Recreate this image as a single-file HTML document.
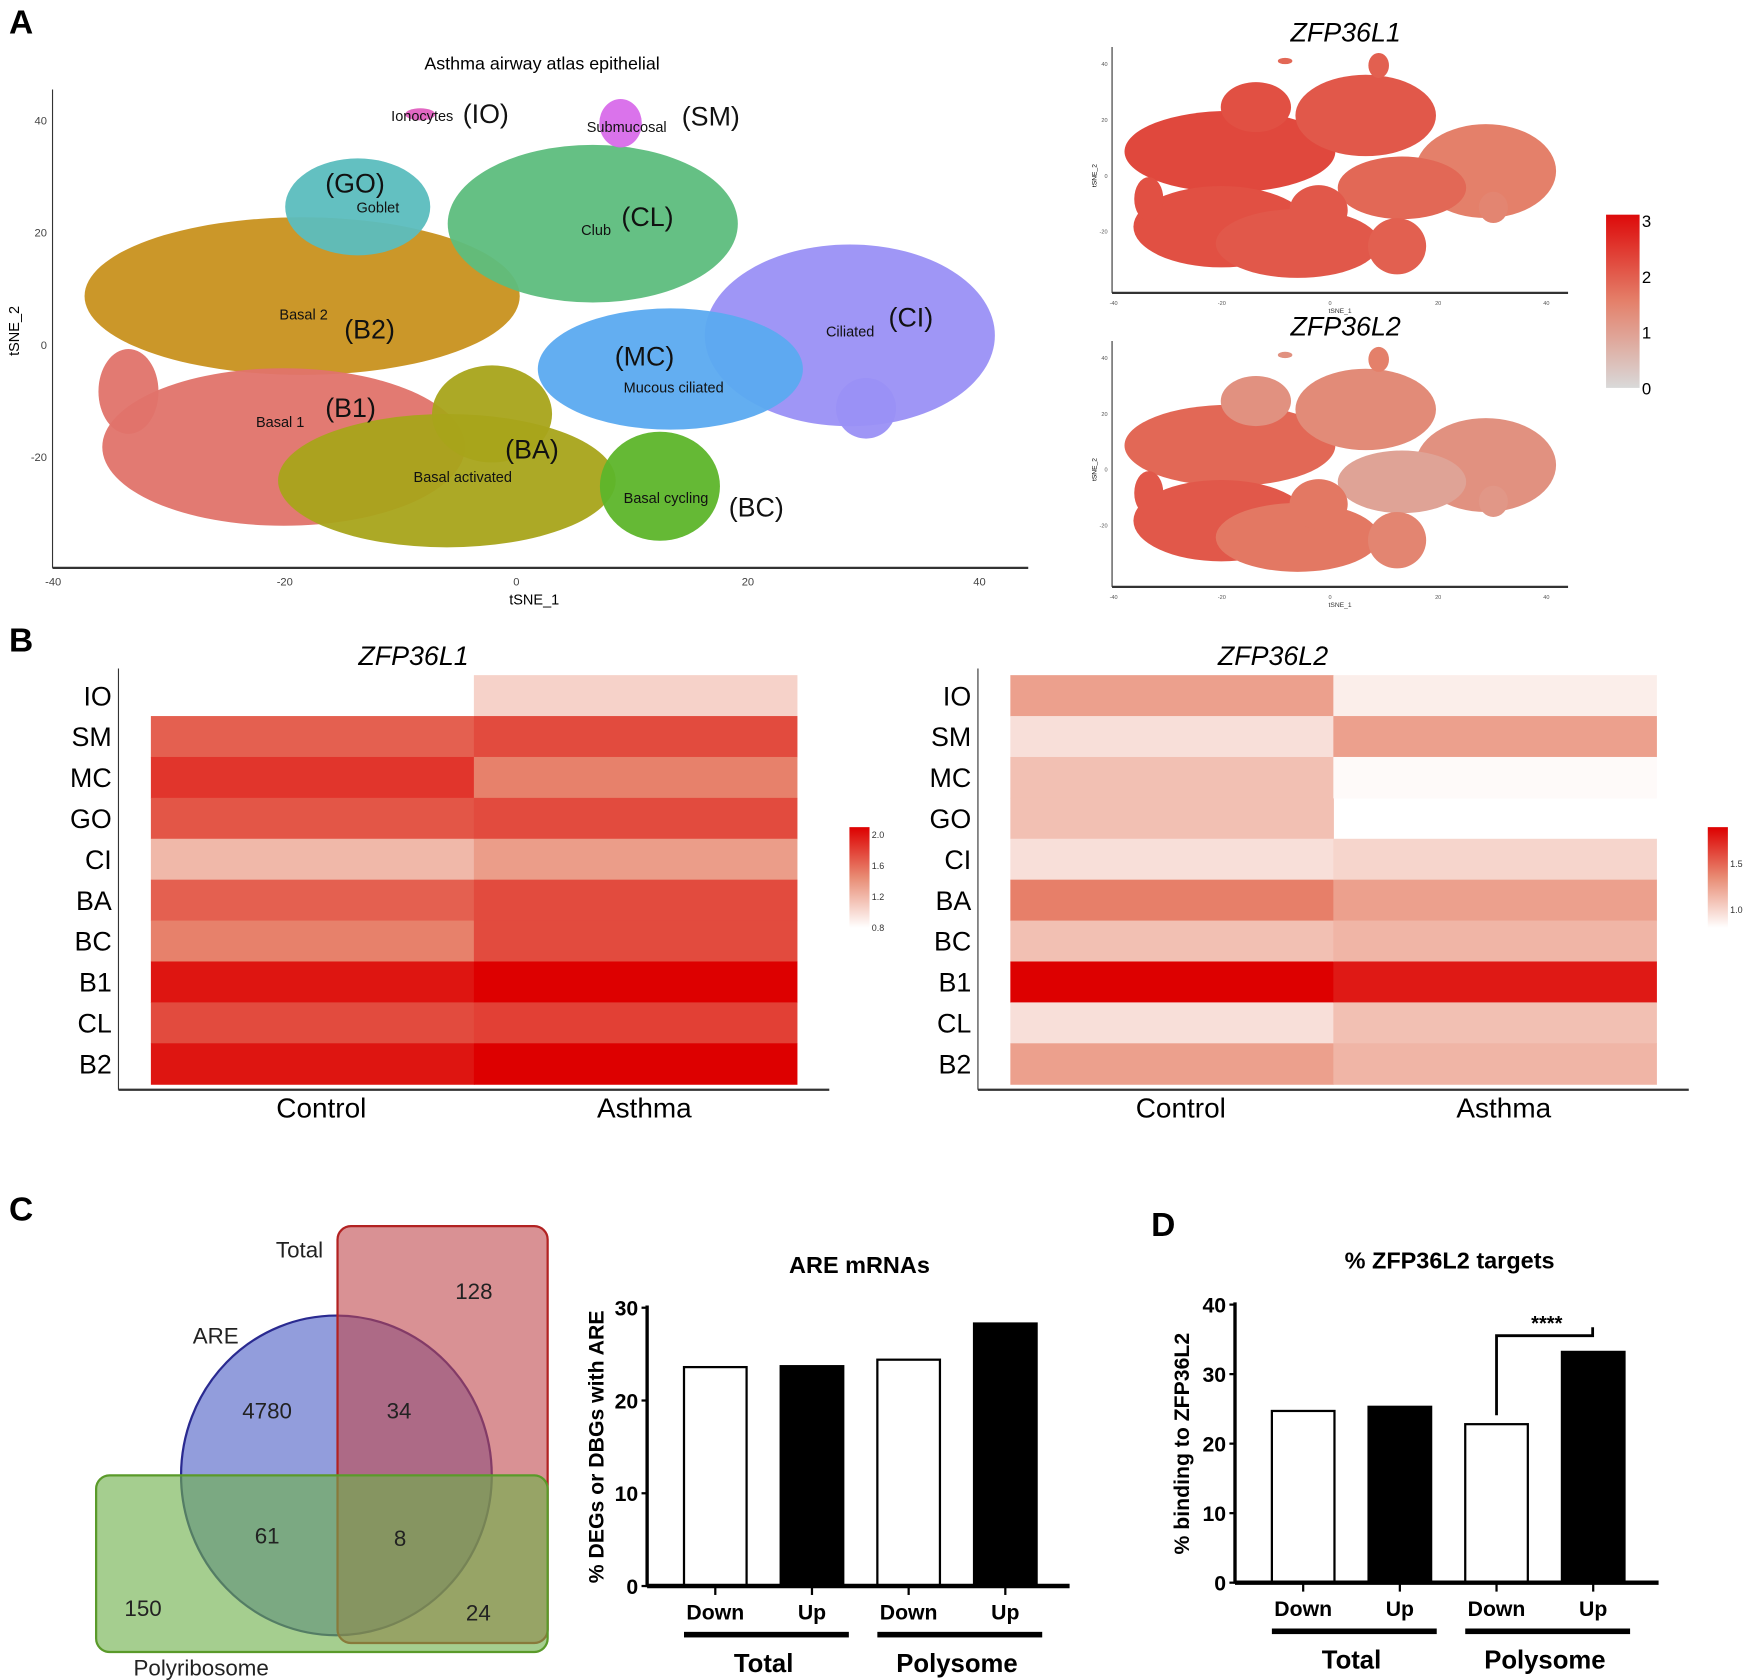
<!DOCTYPE html>
<html><head><meta charset="utf-8"><style>
html,body{margin:0;padding:0;background:#fff;}
svg{display:block;font-family:"Liberation Sans",sans-serif;}
</style></head><body>
<svg id="fig" width="1748" height="1680" viewBox="0 0 1564 1503" xmlns="http://www.w3.org/2000/svg">
<defs>
<linearGradient id="gA" x1="0" y1="1" x2="0" y2="0"><stop offset="0" stop-color="#d9d9d9"/><stop offset="0.5" stop-color="#e4806a"/><stop offset="1" stop-color="#dd0a0a"/></linearGradient>
<linearGradient id="gB" x1="0" y1="1" x2="0" y2="0"><stop offset="0" stop-color="#ffffff"/><stop offset="0.5" stop-color="#e88c74"/><stop offset="1" stop-color="#dd0000"/></linearGradient>
</defs>
<g font-weight="bold" font-size="30">
<text x="8" y="30">A</text>
<text x="8" y="583">B</text>
<text x="8" y="1092">C</text>
<text x="1030" y="1106">D</text>
</g>
<g id="tsneMain"></g>
<g id="tsneL1"></g>
<g id="tsneL2"></g>
<g id="heatL1"></g>
<g id="heatL2"></g>
<g id="venn">
<ellipse cx="301" cy="1320" rx="139" ry="143" fill="#4a5cc4" fill-opacity="0.6" stroke="#2a2a90" stroke-width="2"/>
<rect x="302" y="1097" width="188" height="373" rx="12" fill="#c0484c" fill-opacity="0.6" stroke="#b22222" stroke-width="2"/>
<rect x="86" y="1320" width="404" height="158" rx="12" fill="#6db04b" fill-opacity="0.62" stroke="#5a9a2a" stroke-width="2"/>
<g font-size="20" text-anchor="middle" fill="#222">
<text x="424" y="1162">128</text>
<text x="239" y="1269">4780</text>
<text x="357" y="1269">34</text>
<text x="239" y="1381">61</text>
<text x="358" y="1383">8</text>
<text x="128" y="1446">150</text>
<text x="428" y="1450">24</text>
<text x="268" y="1125">Total</text>
<text x="193" y="1202">ARE</text>
<text x="180" y="1499">Polyribosome</text>
</g>
</g>
<g id="barC"></g>
<g id="barD"></g>
</svg>
<script>
const NS='http://www.w3.org/2000/svg';
function mk(tag,attrs,parent,txt){const e=document.createElementNS(NS,tag);for(const k in attrs)e.setAttribute(k,attrs[k]);if(txt!==undefined)e.textContent=txt;parent.appendChild(e);return e;}

// ===== Panel A data =====
const clusterNames=['Basal 2','Goblet','Club','Ciliated','Ciliated tail','Mucous ciliated','Basal 1','Basal 1 tail','Basal activated','Basal activated top','Basal cycling','Submucosal','Ionocytes'];
const clusterCx=[-18.5,-13.7,6.6,28.8,30.2,13.3,-20.1,-33.5,-6,-2.1,12.4,9.0,-8.3];
const clusterCy=[8.6,24.5,21.5,1.6,-11.4,-4.4,-18.3,-8.4,-24.3,-12.4,-25.3,39.4,41];
const clusterRx=[17.4,5.8,11.6,11.6,2.4,10.6,14.5,2.4,13.5,4.8,4.8,1.7,1.2];
const clusterRy=[13,8,13,15,5,10,13,7,11,8,9,4,1];
const clusterColor=['#c8911e','#5bbdbe','#5dbd7d','#9a90f5','#9a90f5','#5baaf0','#e0736a','#e0736a','#a8a41a','#a8a41a','#5db52a','#d86bea','#e060c0'];
const exprL1=[2.2,2.1,2.0,1.5,1.4,1.8,2.1,2.1,2.0,2.0,1.9,1.9,1.8];
const exprL2=[1.8,1.2,1.3,1.2,1.1,0.9,2.0,2.0,1.6,1.6,1.4,1.5,1.2];
const xTicksA=[-40,-20,0,20,40];
const yTicksA=[-20,0,20,40];

const gm=document.getElementById('tsneMain');
const ax=t=>462+10.36*t, ay=t=>308-5.02*t;
clusterCx.forEach((c,i)=>{
  const e=mk('ellipse',{cx:ax(c),cy:ay(clusterCy[i]),rx:clusterRx[i]*10.36*1.08,ry:clusterRy[i]*5.02*1.08,fill:clusterColor[i],'fill-opacity':0.95},gm);
  
  
});
mk('line',{x1:47,y1:80,x2:47,y2:508,stroke:'#333','stroke-width':1},gm);
mk('line',{x1:47,y1:508,x2:920,y2:508,stroke:'#333','stroke-width':2},gm);
xTicksA.forEach(t=>{const e=mk('text',{x:ax(t),y:524,'font-size':10,'text-anchor':'middle',fill:'#444'},gm,t);
  
  });
yTicksA.forEach(t=>{const e=mk('text',{x:42,y:ay(t)+4,'font-size':10,'text-anchor':'end',fill:'#444'},gm,t);
  
  });
let tt=mk('text',{x:485,y:62,'font-size':16,'text-anchor':'middle'},gm,'Asthma airway atlas epithelial');


tt=mk('text',{x:478,y:541,'font-size':13,'text-anchor':'middle'},gm,'tSNE_1');


tt=mk('text',{x:0,y:0,'font-size':13,'text-anchor':'middle',transform:'translate(17,296) rotate(-90)'},gm,'tSNE_2');


const lblText=['Ionocytes','(IO)','Submucosal','(SM)','(GO)','Goblet','Club','(CL)','Basal 2','(B2)','(CI)','Ciliated','(MC)','Mucous ciliated','(B1)','Basal 1','(BA)','Basal activated','Basal cycling','(BC)'];
const lblX=[350,414,525,610,291,319,520,556,250,308,795,739,550,558,291,229,452,370,558,652];
const lblY=[108,110,118,112,172,190,210,202,286,303,292,301,327,351,373,382,410,431,450,462];
lblText.forEach((s,i)=>{const big=s[0]==='(';
  const e=mk('text',{x:lblX[i],y:lblY[i],'font-size':big?24:13,fill:'#111'},gm,s);
  
  });

function smallTsne(g,oy,expr,title){
  const sx=t=>1190+4.84*t, sy=t=>oy-2.5*t;
  const col=v=>{const f=Math.max(0,Math.min(1,v/3));
    let r,gg,b; if(f<0.5){const k=f/0.5;r=217+(228-217)*k;gg=217+(128-217)*k;b=217+(106-217)*k;}
    else{const k=(f-0.5)/0.5;r=228+(221-228)*k;gg=128+(10-128)*k;b=106+(10-106)*k;}
    return `rgb(${r|0},${gg|0},${b|0})`;};
  clusterCx.forEach((c,i)=>{
    const e=mk('ellipse',{cx:sx(c),cy:sy(clusterCy[i]),rx:clusterRx[i]*4.84*1.12,ry:clusterRy[i]*2.5*1.12,fill:col(expr[i])},g);
    
    
  });
  mk('line',{x1:995,y1:oy-115,x2:995,y2:oy+105,stroke:'#333','stroke-width':1},g);
  mk('line',{x1:995,y1:oy+105,x2:1403,y2:oy+105,stroke:'#333','stroke-width':2},g);
  [-40,-20,0,20,40].forEach(t=>mk('text',{x:sx(t),y:oy+116,'font-size':5,'text-anchor':'middle',fill:'#555'},g,t));
  [-20,0,20,40].forEach(t=>mk('text',{x:991,y:sy(t)+2,'font-size':5,'text-anchor':'end',fill:'#555'},g,t));
  mk('text',{x:1199,y:oy+123,'font-size':6,'text-anchor':'middle',fill:'#333'},g,'tSNE_1');
  mk('text',{x:0,y:0,'font-size':6,'text-anchor':'middle',transform:`translate(981,${oy}) rotate(-90)`},g,'tSNE_2');
  const t=mk('text',{x:1204,y:oy-120,'font-size':24,'font-style':'italic','text-anchor':'middle'},g,title);
  
  
}
smallTsne(document.getElementById('tsneL1'),157,exprL1,'ZFP36L1');
smallTsne(document.getElementById('tsneL2'),420,exprL2,'ZFP36L2');
const cbA=mk('rect',{x:1437,y:192,width:30,height:155,fill:'url(#gA)'},document.getElementById('tsneL1'));


['3','2','1','0'].forEach((s,i)=>mk('text',{x:1469,y:203+i*50,'font-size':15},document.getElementById('tsneL1'),s));

// ===== Panel B data =====
const cellTypes=['IO','SM','MC','GO','CI','BA','BC','B1','CL','B2'];
const conditions=['Control','Asthma'];
const l1Control=[null,1.65,1.85,1.7,1.2,1.65,1.5,2.0,1.75,2.0];
const l1Asthma=[1.05,1.75,1.5,1.75,1.35,1.75,1.75,2.1,1.8,2.1];
const l2Control=[1.25,0.95,1.1,1.1,0.95,1.4,1.1,1.9,0.95,1.25];
const l2Asthma=[0.88,1.25,0.82,null,1.0,1.25,1.15,1.8,1.1,1.15];
const l1Ticks=['2.0','1.6','1.2','0.8'];
const l2Ticks=['1.5','1.0'];

function heatCol(f){f=Math.max(0,Math.min(1,f));let r,g,b;
  if(f<0.5){const k=f/0.5;r=255+(232-255)*k;g=255+(140-255)*k;b=255+(116-255)*k;}
  else{const k=(f-0.5)/0.5;r=232+(221-232)*k;g=140-140*k;b=116-116*k;}
  return `rgb(${r|0},${g|0},${b|0})`;}
function heatmap(g,x0,cols,vmin,vmax,title,ticks,tickVals,cbx){
  const top=604,rh=36.6,cw=289;
  cols.forEach((arr,j)=>arr.forEach((v,i)=>{ if(v===null)return;
    const r=mk('rect',{x:x0+j*cw,y:top+i*rh,width:cw+0.5,height:rh+0.5,fill:heatCol((v-vmin)/(vmax-vmin))},g);
    
    }));
  mk('line',{x1:x0-29,y1:598,x2:x0-29,y2:975,stroke:'#333','stroke-width':1},g);
  mk('line',{x1:x0-29,y1:975,x2:x0+607,y2:975,stroke:'#333','stroke-width':2},g);
  cellTypes.forEach((c,i)=>{const t=mk('text',{x:x0-35,y:top+i*rh+27,'font-size':24,'text-anchor':'end'},g,c);
    
    });
  conditions.forEach((c,j)=>{const t=mk('text',{x:x0+j*cw+cw/2+8,y:1000,'font-size':25,'text-anchor':'middle'},g,c);
    
    });
  const t=mk('text',{x:x0+235,y:595,'font-size':24,'font-style':'italic','text-anchor':'middle'},g,title);
  
  
  const cb=mk('rect',{x:cbx,y:740,width:18,height:90,fill:'url(#gB)'},g);
  
  
  ticks.forEach((s,i)=>{const v=parseFloat(s);const y=830-(v-vmin)/(vmax-vmin)*90;
    mk('text',{x:cbx+20,y:y+3,'font-size':8,fill:'#333'},g,s);});
}
heatmap(document.getElementById('heatL1'),135,[l1Control,l1Asthma],0.8,2.1,'ZFP36L1',l1Ticks,null,760);
heatmap(document.getElementById('heatL2'),904,[l2Control,l2Asthma],0.8,1.9,'ZFP36L2',l2Ticks,null,1528);

// ===== Panels C/D data =====
const barGroups=['Down','Up','Down','Up'];
const areValues=[23.6,23.7,24.4,28.3];
const zfpValues=[24.7,25.3,22.8,33.2];
const areTicks=[0,10,20,30];
const zfpTicks=[0,10,20,30,40];

function barChart(g,o){
  const y=v=>o.y0-v*o.k;
  mk('line',{x1:o.ax,y1:y(o.max)-2,x2:o.ax,y2:o.y0+1,stroke:'#000','stroke-width':3},g);
  o.ticks.forEach(t=>{mk('line',{x1:o.ax-5,y1:y(t),x2:o.ax,y2:y(t),stroke:'#000','stroke-width':2},g);
    const e=mk('text',{x:o.ax-8,y:y(t)+7,'font-size':19,'font-weight':'bold','text-anchor':'end'},g,t);
    
    });
  o.vals.forEach((v,i)=>{const bx=o.bx0+i*o.step;
    const r=mk('rect',{x:bx,y:y(v),width:56,height:v*o.k,fill:i%2?'#000':'#fff',stroke:'#000','stroke-width':2},g);
    
    
    mk('line',{x1:bx+28,y1:o.y0,x2:bx+28,y2:o.y0+8,stroke:'#000','stroke-width':2},g);
    const t=mk('text',{x:bx+28,y:o.y0+30,'font-size':19,'font-weight':'bold','text-anchor':'middle'},g,barGroups[i]);
    
    });
  mk('line',{x1:o.ax,y1:o.y0,x2:o.xend,y2:o.y0,stroke:'#000','stroke-width':4},g);
  [0,2].forEach((i,k)=>{const bx=o.bx0+i*o.step;
    mk('rect',{x:bx,y:o.y0+41,width:o.step+61,height:5,fill:'#000'},g);
    const t=mk('text',{x:bx+o.step/2+28,y:o.y0+77,'font-size':23,'font-weight':'bold','text-anchor':'middle'},g,k?'Polysome':'Total');
    
    });
  let t=mk('text',{x:o.tx,y:o.ty,'font-size':21,'font-weight':'bold','text-anchor':'middle'},g,o.title);
  
  
  t=mk('text',{x:0,y:0,'font-size':19,'font-weight':'bold','text-anchor':'middle',transform:`translate(${o.ylx},${y(o.max/2)}) rotate(-90)`},g,o.ylabel);
  
  
  return y;
}
barChart(document.getElementById('barC'),{ax:579,y0:1419,k:8.3,max:30,ticks:areTicks,vals:areValues,bx0:612,step:86.5,xend:957,title:'ARE mRNAs',tx:769,ty:1139,ylabel:'% DEGs or DBGs with ARE',ylx:540});
const gD=document.getElementById('barD');
const yD=barChart(gD,{ax:1105,y0:1416,k:6.22,max:40,ticks:zfpTicks,vals:zfpValues,bx0:1138,step:86.5,xend:1484,title:'% ZFP36L2 targets',tx:1297,ty:1135,ylabel:'% binding to ZFP36L2',ylx:1064});
const br=mk('path',{d:`M1339 ${yD(zfpValues[2])-8} V1195 H1425 V${yD(zfpValues[3])-22}`,fill:'none',stroke:'#000','stroke-width':2.5},gD);


const st=mk('text',{x:1384,y:1190,'font-size':18,'font-weight':'bold','text-anchor':'middle'},gD,'****');


</script>
</body></html>
